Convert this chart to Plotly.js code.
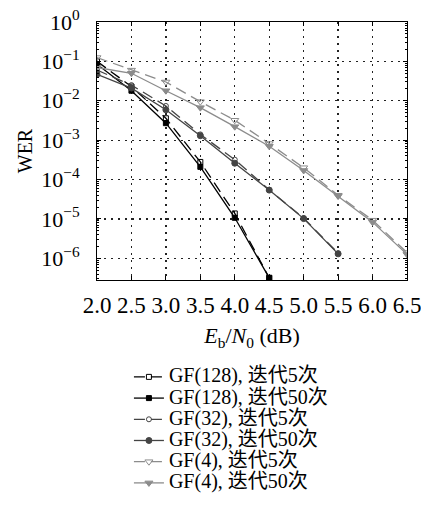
<!DOCTYPE html>
<html>
<head>
<meta charset="utf-8">
<script src="https://cdn.plot.ly/plotly-3.0.1.min.js"></script>
<style>html,body{margin:0;padding:0;background:#fff;}#chart{width:421px;height:510px;}</style>
</head>
<body>
<div id="chart"></div>
<script>
const snrLabels = ["2.0","2.5","3.0","3.5","4.0","4.5","5.0","5.5","6.0","6.5"];
const snr = [2.0,2.5,3.0,3.5,4.0,4.5,5.0,5.5,6.0,6.5];

const gf128_it5  = [0.10, 0.023, 3.6e-3, 2.8e-4, 1.38e-5, 3.2e-7];
const gf128_it50 = [0.085, 0.018, 2.7e-3, 2.1e-4, 1.07e-5, 3.2e-7];
const gf32_it5   = [0.06, 0.025, 7.4e-3, 1.4e-3, 3.2e-4, 5.5e-5, 1.05e-5, 1.35e-6];
const gf32_it50  = [0.047, 0.021, 5.9e-3, 1.3e-3, 2.6e-4, 5.4e-5, 1.02e-5, 1.3e-6];
const gf4_it5    = [0.125, 0.06, 0.03, 9.5e-3, 3.2e-3, 8.2e-4, 2.0e-4, 4.0e-5, 9.3e-6, 1.4e-6];
const gf4_it50   = [0.07, 0.05, 0.018, 6.7e-3, 2.2e-3, 7.0e-4, 1.7e-4, 3.8e-5, 8.3e-6, 1.26e-6];

const names = ["GF(128), 迭代5次","GF(128), 迭代50次","GF(32), 迭代5次","GF(32), 迭代50次","GF(4), 迭代5次","GF(4), 迭代50次"];
const yTickVals = [1, 1e-1, 1e-2, 1e-3, 1e-4, 1e-5, 1e-6];
const yTickText = ["10<sup>0</sup>","10<sup>−1</sup>","10<sup>−2</sup>","10<sup>−3</sup>","10<sup>−4</sup>","10<sup>−5</sup>","10<sup>−6</sup>"];

const FONT = "'Liberation Serif', 'Noto Sans CJK SC', serif";
const DASH = "11px,6px";
const C128 = "#000000", C32 = "#444444", C4 = "#8c8c8c";

function tr(y, name, color, dash, symbol, size) {
  return {
    x: snr.slice(0, y.length), y: y, name: name, type: "scatter", mode: "lines+markers",
    line: {color: color, width: 1.3, dash: dash},
    marker: {symbol: symbol, size: size, color: color, line: {color: color, width: 1}}
  };
}

const data = [
  tr(gf128_it5,  names[0], C128, DASH,   "square-open", 5),
  tr(gf128_it50, names[1], C128, "solid", "square", 5),
  tr(gf32_it5,   names[2], C32,  DASH,   "circle-open", 5),
  tr(gf32_it50,  names[3], C32,  "solid", "circle", 6),
  tr(gf4_it5,    names[4], C4,   DASH,   "triangle-down-open", 7),
  tr(gf4_it50,   names[5], C4,   "solid", "triangle-down", 7)
];

const layout = {
  width: 421, height: 510,
  margin: {l: 97, r: 14, t: 22, b: 229},
  paper_bgcolor: "#fff", plot_bgcolor: "#fff",
  font: {family: FONT, color: "#000", size: 16},
  showlegend: true,
  legend: {
    x: 0.103, xanchor: "left", y: -0.31, yanchor: "top",
    font: {family: FONT, size: 14, color: "#000"},
    bgcolor: "rgba(0,0,0,0)", borderwidth: 0, tracegroupgap: 0, itemwidth: 30
  },
  xaxis: {
    range: [2.0, 6.5], tickvals: snr, ticktext: snrLabels,
    tickfont: {family: FONT, size: 23}, ticks: "inside", ticklen: 4, tickcolor: "#000",
    ticklabelstandoff: 4, ticklabeloverflow: "allow",
    showline: true, linecolor: "#000", linewidth: 1, mirror: "allticks",
    showgrid: true, gridcolor: "#222", griddash: "2px,5px", gridwidth: 1.3,
    zeroline: false, automargin: false,
    title: {text: "<i>E</i><sub>b</sub>/<i>N</i><sub>0</sub> (dB)", font: {family: FONT, size: 22}, standoff: 11}
  },
  yaxis: {
    type: "log", range: [-6.55, 0], tickvals: yTickVals, ticktext: yTickText,
    tickfont: {family: FONT, size: 22}, ticks: "inside", ticklen: 4, tickcolor: "#000",
    ticklabelstandoff: 12, ticklabeloverflow: "allow",
    showline: true, linecolor: "#000", linewidth: 1, mirror: "allticks",
    showgrid: true, gridcolor: "#222", griddash: "2px,5px", gridwidth: 1.3,
    zeroline: false, automargin: false,
    minor: {ticks: "inside", ticklen: 2, tickcolor: "#000", dtick: "D1", showgrid: false},
    title: {text: "WER", font: {family: FONT, size: 20}, standoff: 3}
  }
};

const gd = document.getElementById("chart");
Plotly.newPlot(gd, data, layout, {staticPlot: true, displayModeBar: false}).then(function () {
  gd.querySelectorAll(".legend text.legendtext").forEach(function (t) {
    t.style.fontSize = "20px";
  });
  gd.querySelectorAll(".legend .scrollbox, .legend [clip-path]").forEach(function (el) {
    el.removeAttribute("clip-path");
  });
});
</script>
</body>
</html>
